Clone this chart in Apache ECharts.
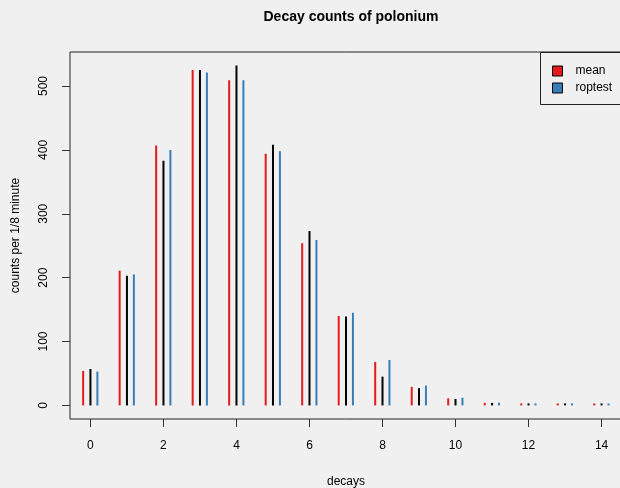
<!DOCTYPE html>
<html>
<head>
<meta charset="utf-8">
<style>
html,body{margin:0;padding:0;background:#f0f0f0;}
#chart{width:620px;height:488px;}
</style>
<script src="https://cdn.jsdelivr.net/npm/echarts@6/dist/echarts.min.js"></script>
</head>
<body>
<div id="chart"></div>
<script>
// decays 0..14
var decays = [0,1,2,3,4,5,6,7,8,9,10,11,12,13,14];
// observed counts (black)
var observed = [57,203,383,525,532,408,273,139,45,27,10,4,0,1,1];
// fitted with mean (red)
var meanFit = [54,211,407,525,509,394,254,140,68,29,11,4,1.3,0.4,0.1];
// fitted with roptest (blue)
var roptestFit = [53,205,400,521,509,398,259,145,71,31,12,4.3,1.5,0.5,0.15];
var xTicks = [0,2,4,6,8,10,12,14];
var yTicks = [0,100,200,300,400,500];

var FONT = 'Liberation Sans, Arial, Helvetica, sans-serif';

function makeSeries(name, values, offset, color) {
  return {
    name: name,
    type: 'custom',
    itemStyle: {color: color},
    data: decays.map(function (d, i) { return [d, values[i]]; }),
    renderItem: function (params, api) {
      var x = api.value(0) + offset;
      var top = api.coord([x, api.value(1)]);
      var base = api.coord([x, 0]);
      var h = Math.max(base[1] - top[1], 2);
      return {
        type: 'rect',
        shape: {x: top[0] - 1, y: base[1] - h, width: 2, height: h},
        style: {fill: color}
      };
    }
  };
}

var chart = echarts.init(document.getElementById('chart'));
chart.setOption({
  backgroundColor: '#f0f0f0',
  animation: false,
  title: {
    text: 'Decay counts of polonium',
    left: 346, top: 5, textAlign: 'center',
    textStyle: {fontFamily: FONT, fontSize: 14, fontWeight: 'bold', color: '#000'}
  },
  graphic: [{
    type: 'rect', z: 5, silent: true,
    shape: {x: 540.5, y: 52.5, width: 100, height: 52},
    style: {fill: 'none', stroke: '#222', lineWidth: 1}
  }],
  legend: {
    orient: 'vertical',
    left: 540, top: 52,
    padding: [12, 20, 10, 12],
    itemGap: 3,
    itemWidth: 10, itemHeight: 10,
    icon: 'rect',
    backgroundColor: '#f0f0f0',
    borderWidth: 0,
    data: [
      {name: 'mean', itemStyle: {borderColor: '#000', borderWidth: 1}},
      {name: 'roptest', itemStyle: {borderColor: '#000', borderWidth: 1}}
    ],
    textStyle: {fontFamily: FONT, fontSize: 12, color: '#000', lineHeight: 14, padding: [0, 0, 0, 8]}
  },
  grid: {
    left: 70, top: 52, right: -2, bottom: 69,
    outerBoundsMode: 'none', containLabel: false,
    show: true, borderColor: '#222', borderWidth: 1, backgroundColor: 'transparent'
  },
  xAxis: {
    type: 'value', min: -0.56, max: 14.56,
    name: 'decays', nameLocation: 'middle', nameGap: 57,
    nameTextStyle: {fontFamily: FONT, fontSize: 12, color: '#000'},
    axisLine: {show: false, onZero: false},
    splitLine: {show: false},
    axisTick: {show: true, length: 8, lineStyle: {color: '#333'}, customValues: xTicks},
    axisLabel: {customValues: xTicks, margin: 21, fontFamily: FONT, fontSize: 12, color: '#000'}
  },
  yAxis: {
    type: 'value', min: -21.28, max: 553.28,
    name: 'counts per 1/8 minute', nameLocation: 'middle', nameGap: 48, nameRotate: 90,
    nameTextStyle: {fontFamily: FONT, fontSize: 12, color: '#000'},
    axisLine: {show: false, onZero: false},
    splitLine: {show: false},
    axisTick: {show: true, length: 8, lineStyle: {color: '#333'}, customValues: yTicks},
    axisLabel: {customValues: yTicks, rotate: 90, margin: 20, fontFamily: FONT, fontSize: 12, color: '#000'}
  },
  series: [
    makeSeries('mean', meanFit, -0.2, '#E41A1C'),
    makeSeries('observed', observed, 0, '#000000'),
    makeSeries('roptest', roptestFit, 0.19, '#377EB8')
  ]
});
</script>
</body>
</html>
